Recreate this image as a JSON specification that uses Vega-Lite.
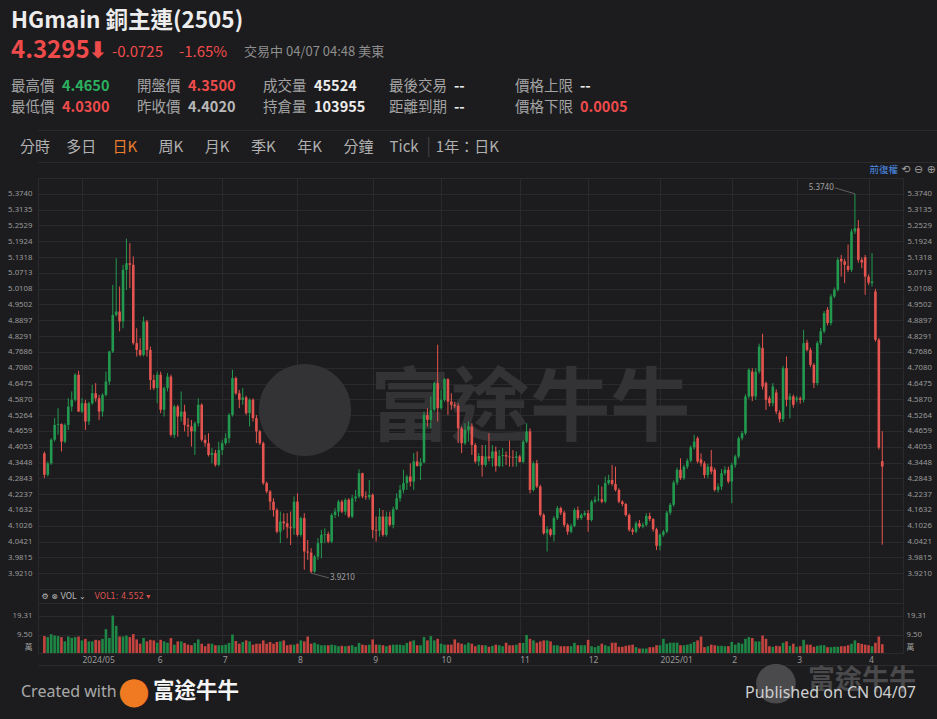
{
"$schema": "https://vega.github.io/schema/vega-lite/v6.json",
"background": "#1c1c1e",
"padding": 0,
"spacing": 0,
"bounds": "flush",
"config": {
 "view": {"stroke": null},
 "font": "Noto Sans CJK TC",
 "axis": {"labelColor": "#999999", "labelFont": "Noto Sans, Noto Sans CJK TC", "labelFontSize": 7.8, "gridColor": "#2a2a2c", "gridWidth": 1, "domain": false, "ticks": false}
},
"datasets": {
 "k": [
{"i":1,"o":4.380,"h":4.387,"l":4.285,"c":4.298,"v":8.7},
{"i":2,"o":4.298,"h":4.349,"l":4.291,"c":4.342,"v":8.2},
{"i":3,"o":4.342,"h":4.438,"l":4.336,"c":4.432,"v":9.7},
{"i":4,"o":4.432,"h":4.515,"l":4.425,"c":4.489,"v":9.0},
{"i":5,"o":4.489,"h":4.553,"l":4.451,"c":4.492,"v":8.7},
{"i":6,"o":4.492,"h":4.495,"l":4.387,"c":4.425,"v":8.2},
{"i":7,"o":4.425,"h":4.495,"l":4.419,"c":4.489,"v":6.0},
{"i":8,"o":4.489,"h":4.591,"l":4.470,"c":4.559,"v":8.5},
{"i":9,"o":4.559,"h":4.617,"l":4.540,"c":4.585,"v":7.8},
{"i":10,"o":4.585,"h":4.687,"l":4.578,"c":4.681,"v":8.2},
{"i":11,"o":4.681,"h":4.696,"l":4.538,"c":4.540,"v":8.5},
{"i":12,"o":4.540,"h":4.591,"l":4.534,"c":4.572,"v":6.5},
{"i":13,"o":4.572,"h":4.585,"l":4.470,"c":4.502,"v":7.3},
{"i":14,"o":4.502,"h":4.578,"l":4.489,"c":4.572,"v":6.0},
{"i":15,"o":4.572,"h":4.642,"l":4.566,"c":4.610,"v":6.0},
{"i":16,"o":4.610,"h":4.649,"l":4.578,"c":4.591,"v":6.8},
{"i":17,"o":4.591,"h":4.604,"l":4.508,"c":4.540,"v":6.5},
{"i":18,"o":4.540,"h":4.610,"l":4.521,"c":4.604,"v":7.3},
{"i":19,"o":4.604,"h":4.693,"l":4.598,"c":4.655,"v":12.3},
{"i":20,"o":4.655,"h":4.773,"l":4.642,"c":4.770,"v":7.8},
{"i":21,"o":4.770,"h":5.025,"l":4.764,"c":4.910,"v":19.31},
{"i":22,"o":4.910,"h":5.128,"l":4.904,"c":4.923,"v":14.0},
{"i":23,"o":4.923,"h":5.019,"l":4.847,"c":4.885,"v":8.5},
{"i":24,"o":4.885,"h":5.102,"l":4.859,"c":5.083,"v":8.5},
{"i":25,"o":5.083,"h":5.202,"l":5.006,"c":5.108,"v":9.0},
{"i":26,"o":5.108,"h":5.185,"l":5.013,"c":5.102,"v":8.2},
{"i":27,"o":5.102,"h":5.134,"l":4.796,"c":4.802,"v":9.8},
{"i":28,"o":4.802,"h":4.859,"l":4.751,"c":4.776,"v":7.0},
{"i":29,"o":4.776,"h":4.821,"l":4.751,"c":4.757,"v":4.8},
{"i":30,"o":4.757,"h":4.904,"l":4.751,"c":4.885,"v":7.8},
{"i":31,"o":4.885,"h":4.891,"l":4.751,"c":4.776,"v":6.0},
{"i":32,"o":4.776,"h":4.789,"l":4.623,"c":4.661,"v":6.8},
{"i":33,"o":4.661,"h":4.681,"l":4.623,"c":4.630,"v":6.5},
{"i":34,"o":4.630,"h":4.693,"l":4.572,"c":4.681,"v":5.3},
{"i":35,"o":4.681,"h":4.693,"l":4.534,"c":4.547,"v":6.8},
{"i":36,"o":4.547,"h":4.636,"l":4.521,"c":4.630,"v":6.0},
{"i":37,"o":4.630,"h":4.687,"l":4.617,"c":4.674,"v":5.3},
{"i":38,"o":4.674,"h":4.681,"l":4.444,"c":4.451,"v":7.7},
{"i":39,"o":4.451,"h":4.566,"l":4.438,"c":4.559,"v":4.3},
{"i":40,"o":4.559,"h":4.566,"l":4.444,"c":4.521,"v":6.0},
{"i":41,"o":4.521,"h":4.617,"l":4.502,"c":4.540,"v":6.0},
{"i":42,"o":4.540,"h":4.566,"l":4.464,"c":4.489,"v":5.2},
{"i":43,"o":4.489,"h":4.515,"l":4.444,"c":4.483,"v":4.3},
{"i":44,"o":4.483,"h":4.508,"l":4.406,"c":4.464,"v":4.0},
{"i":45,"o":4.464,"h":4.502,"l":4.374,"c":4.495,"v":5.2},
{"i":46,"o":4.495,"h":4.591,"l":4.483,"c":4.566,"v":7.0},
{"i":47,"o":4.566,"h":4.572,"l":4.425,"c":4.432,"v":4.8},
{"i":48,"o":4.432,"h":4.451,"l":4.406,"c":4.419,"v":3.5},
{"i":49,"o":4.419,"h":4.457,"l":4.368,"c":4.374,"v":4.8},
{"i":50,"o":4.374,"h":4.400,"l":4.342,"c":4.381,"v":4.8},
{"i":51,"o":4.381,"h":4.393,"l":4.329,"c":4.336,"v":4.0},
{"i":52,"o":4.336,"h":4.425,"l":4.330,"c":4.393,"v":4.0},
{"i":53,"o":4.393,"h":4.432,"l":4.374,"c":4.419,"v":4.0},
{"i":54,"o":4.419,"h":4.457,"l":4.412,"c":4.438,"v":4.3},
{"i":55,"o":4.438,"h":4.534,"l":4.419,"c":4.527,"v":5.2},
{"i":56,"o":4.527,"h":4.700,"l":4.521,"c":4.668,"v":9.5},
{"i":57,"o":4.668,"h":4.674,"l":4.604,"c":4.610,"v":6.2},
{"i":58,"o":4.610,"h":4.623,"l":4.553,"c":4.585,"v":4.8},
{"i":59,"o":4.585,"h":4.630,"l":4.566,"c":4.594,"v":5.7},
{"i":60,"o":4.594,"h":4.601,"l":4.527,"c":4.534,"v":6.5},
{"i":61,"o":4.534,"h":4.591,"l":4.483,"c":4.585,"v":6.0},
{"i":62,"o":4.585,"h":4.591,"l":4.502,"c":4.515,"v":4.3},
{"i":63,"o":4.515,"h":4.527,"l":4.419,"c":4.464,"v":4.8},
{"i":64,"o":4.464,"h":4.470,"l":4.412,"c":4.419,"v":4.8},
{"i":65,"o":4.419,"h":4.425,"l":4.259,"c":4.266,"v":6.5},
{"i":66,"o":4.266,"h":4.272,"l":4.227,"c":4.234,"v":4.8},
{"i":67,"o":4.234,"h":4.240,"l":4.163,"c":4.195,"v":5.7},
{"i":68,"o":4.195,"h":4.208,"l":4.138,"c":4.163,"v":4.8},
{"i":69,"o":4.163,"h":4.170,"l":4.074,"c":4.080,"v":5.7},
{"i":70,"o":4.080,"h":4.157,"l":4.036,"c":4.119,"v":6.0},
{"i":71,"o":4.119,"h":4.151,"l":4.087,"c":4.112,"v":6.5},
{"i":72,"o":4.112,"h":4.151,"l":4.055,"c":4.097,"v":4.0},
{"i":73,"o":4.097,"h":4.157,"l":4.029,"c":4.093,"v":4.3},
{"i":74,"o":4.093,"h":4.215,"l":4.068,"c":4.195,"v":4.3},
{"i":75,"o":4.195,"h":4.227,"l":4.061,"c":4.068,"v":4.8},
{"i":76,"o":4.068,"h":4.138,"l":4.061,"c":4.132,"v":6.5},
{"i":77,"o":4.132,"h":4.151,"l":3.934,"c":4.004,"v":6.0},
{"i":78,"o":4.004,"h":4.048,"l":3.972,"c":4.000,"v":8.5},
{"i":79,"o":4.000,"h":4.017,"l":3.921,"c":3.927,"v":4.8},
{"i":80,"o":3.927,"h":3.991,"l":3.923,"c":3.985,"v":5.3},
{"i":81,"o":3.985,"h":4.055,"l":3.972,"c":4.036,"v":4.5},
{"i":82,"o":4.036,"h":4.087,"l":3.978,"c":4.068,"v":4.0},
{"i":83,"o":4.068,"h":4.093,"l":4.036,"c":4.071,"v":4.0},
{"i":84,"o":4.071,"h":4.080,"l":4.036,"c":4.042,"v":4.0},
{"i":85,"o":4.042,"h":4.151,"l":4.036,"c":4.144,"v":4.3},
{"i":86,"o":4.144,"h":4.170,"l":4.132,"c":4.157,"v":4.0},
{"i":87,"o":4.157,"h":4.202,"l":4.138,"c":4.195,"v":3.5},
{"i":88,"o":4.195,"h":4.202,"l":4.151,"c":4.157,"v":3.7},
{"i":89,"o":4.157,"h":4.208,"l":4.144,"c":4.202,"v":3.5},
{"i":90,"o":4.202,"h":4.208,"l":4.132,"c":4.138,"v":3.7},
{"i":91,"o":4.138,"h":4.221,"l":4.132,"c":4.208,"v":4.0},
{"i":92,"o":4.208,"h":4.240,"l":4.195,"c":4.215,"v":3.2},
{"i":93,"o":4.215,"h":4.319,"l":4.208,"c":4.304,"v":5.2},
{"i":94,"o":4.304,"h":4.306,"l":4.208,"c":4.215,"v":4.3},
{"i":95,"o":4.215,"h":4.234,"l":4.202,"c":4.212,"v":4.0},
{"i":96,"o":4.212,"h":4.278,"l":4.202,"c":4.221,"v":4.3},
{"i":97,"o":4.221,"h":4.227,"l":4.055,"c":4.087,"v":7.0},
{"i":98,"o":4.087,"h":4.138,"l":4.042,"c":4.084,"v":4.3},
{"i":99,"o":4.084,"h":4.170,"l":4.061,"c":4.138,"v":4.3},
{"i":100,"o":4.138,"h":4.163,"l":4.061,"c":4.068,"v":4.0},
{"i":101,"o":4.068,"h":4.157,"l":4.061,"c":4.138,"v":3.5},
{"i":102,"o":4.138,"h":4.157,"l":4.100,"c":4.106,"v":4.0},
{"i":103,"o":4.106,"h":4.176,"l":4.093,"c":4.166,"v":4.3},
{"i":104,"o":4.166,"h":4.227,"l":4.163,"c":4.208,"v":4.3},
{"i":105,"o":4.208,"h":4.259,"l":4.195,"c":4.240,"v":4.3},
{"i":106,"o":4.240,"h":4.317,"l":4.227,"c":4.266,"v":4.0},
{"i":107,"o":4.266,"h":4.298,"l":4.240,"c":4.291,"v":5.2},
{"i":108,"o":4.291,"h":4.342,"l":4.253,"c":4.272,"v":6.0},
{"i":109,"o":4.272,"h":4.381,"l":4.240,"c":4.349,"v":6.5},
{"i":110,"o":4.349,"h":4.387,"l":4.329,"c":4.332,"v":4.0},
{"i":111,"o":4.332,"h":4.361,"l":4.278,"c":4.345,"v":4.0},
{"i":112,"o":4.345,"h":4.540,"l":4.342,"c":4.527,"v":8.2},
{"i":113,"o":4.527,"h":4.553,"l":4.483,"c":4.508,"v":6.5},
{"i":114,"o":4.508,"h":4.598,"l":4.476,"c":4.547,"v":8.7},
{"i":115,"o":4.547,"h":4.655,"l":4.540,"c":4.649,"v":6.5},
{"i":116,"o":4.649,"h":4.796,"l":4.502,"c":4.553,"v":7.3},
{"i":117,"o":4.553,"h":4.623,"l":4.547,"c":4.585,"v":4.8},
{"i":118,"o":4.585,"h":4.668,"l":4.578,"c":4.664,"v":4.3},
{"i":119,"o":4.664,"h":4.668,"l":4.527,"c":4.578,"v":4.3},
{"i":120,"o":4.578,"h":4.610,"l":4.547,"c":4.566,"v":4.3},
{"i":121,"o":4.566,"h":4.578,"l":4.553,"c":4.562,"v":7.0},
{"i":122,"o":4.562,"h":4.572,"l":4.419,"c":4.476,"v":5.3},
{"i":123,"o":4.476,"h":4.483,"l":4.381,"c":4.419,"v":4.8},
{"i":124,"o":4.419,"h":4.495,"l":4.412,"c":4.470,"v":4.3},
{"i":125,"o":4.470,"h":4.502,"l":4.425,"c":4.483,"v":5.3},
{"i":126,"o":4.483,"h":4.495,"l":4.374,"c":4.412,"v":4.8},
{"i":127,"o":4.412,"h":4.419,"l":4.342,"c":4.349,"v":3.5},
{"i":128,"o":4.349,"h":4.381,"l":4.332,"c":4.370,"v":4.3},
{"i":129,"o":4.370,"h":4.412,"l":4.291,"c":4.336,"v":4.0},
{"i":130,"o":4.336,"h":4.412,"l":4.329,"c":4.368,"v":4.0},
{"i":131,"o":4.368,"h":4.457,"l":4.349,"c":4.361,"v":3.2},
{"i":132,"o":4.361,"h":4.412,"l":4.329,"c":4.387,"v":3.7},
{"i":133,"o":4.387,"h":4.406,"l":4.310,"c":4.332,"v":4.3},
{"i":134,"o":4.332,"h":4.393,"l":4.327,"c":4.370,"v":4.0},
{"i":135,"o":4.370,"h":4.400,"l":4.329,"c":4.373,"v":3.5},
{"i":136,"o":4.373,"h":4.387,"l":4.336,"c":4.368,"v":5.3},
{"i":137,"o":4.368,"h":4.429,"l":4.329,"c":4.365,"v":4.0},
{"i":138,"o":4.365,"h":4.393,"l":4.329,"c":4.363,"v":4.0},
{"i":139,"o":4.363,"h":4.387,"l":4.329,"c":4.368,"v":4.3},
{"i":140,"o":4.368,"h":4.374,"l":4.345,"c":4.347,"v":5.2},
{"i":141,"o":4.347,"h":4.432,"l":4.342,"c":4.425,"v":5.2},
{"i":142,"o":4.425,"h":4.495,"l":4.419,"c":4.464,"v":9.3},
{"i":143,"o":4.464,"h":4.476,"l":4.227,"c":4.240,"v":7.3},
{"i":144,"o":4.240,"h":4.349,"l":4.234,"c":4.342,"v":6.5},
{"i":145,"o":4.342,"h":4.355,"l":4.247,"c":4.253,"v":5.3},
{"i":146,"o":4.253,"h":4.260,"l":4.138,"c":4.144,"v":6.0},
{"i":147,"o":4.144,"h":4.151,"l":4.068,"c":4.074,"v":6.5},
{"i":148,"o":4.074,"h":4.100,"l":4.004,"c":4.089,"v":6.5},
{"i":149,"o":4.089,"h":4.093,"l":4.061,"c":4.068,"v":6.0},
{"i":150,"o":4.068,"h":4.140,"l":4.042,"c":4.132,"v":4.0},
{"i":151,"o":4.132,"h":4.178,"l":4.125,"c":4.170,"v":4.0},
{"i":152,"o":4.170,"h":4.176,"l":4.144,"c":4.153,"v":3.5},
{"i":153,"o":4.153,"h":4.160,"l":4.097,"c":4.106,"v":3.5},
{"i":154,"o":4.106,"h":4.112,"l":4.068,"c":4.080,"v":3.5},
{"i":155,"o":4.080,"h":4.110,"l":4.074,"c":4.102,"v":3.5},
{"i":156,"o":4.102,"h":4.170,"l":4.097,"c":4.163,"v":5.2},
{"i":157,"o":4.163,"h":4.176,"l":4.125,"c":4.132,"v":4.0},
{"i":158,"o":4.132,"h":4.151,"l":4.125,"c":4.144,"v":4.0},
{"i":159,"o":4.144,"h":4.160,"l":4.138,"c":4.151,"v":4.0},
{"i":160,"o":4.151,"h":4.163,"l":4.080,"c":4.125,"v":6.8},
{"i":161,"o":4.125,"h":4.202,"l":4.119,"c":4.195,"v":3.5},
{"i":162,"o":4.195,"h":4.215,"l":4.189,"c":4.202,"v":3.0},
{"i":163,"o":4.202,"h":4.259,"l":4.195,"c":4.204,"v":3.7},
{"i":164,"o":4.204,"h":4.253,"l":4.189,"c":4.195,"v":4.8},
{"i":165,"o":4.195,"h":4.291,"l":4.189,"c":4.266,"v":4.0},
{"i":166,"o":4.266,"h":4.298,"l":4.259,"c":4.278,"v":3.5},
{"i":167,"o":4.278,"h":4.336,"l":4.256,"c":4.263,"v":5.3},
{"i":168,"o":4.263,"h":4.329,"l":4.234,"c":4.240,"v":5.3},
{"i":169,"o":4.240,"h":4.246,"l":4.189,"c":4.195,"v":3.2},
{"i":170,"o":4.195,"h":4.200,"l":4.178,"c":4.186,"v":3.2},
{"i":171,"o":4.186,"h":4.190,"l":4.138,"c":4.144,"v":3.7},
{"i":172,"o":4.144,"h":4.150,"l":4.080,"c":4.087,"v":4.0},
{"i":173,"o":4.087,"h":4.095,"l":4.068,"c":4.080,"v":4.3},
{"i":174,"o":4.080,"h":4.120,"l":4.074,"c":4.112,"v":3.0},
{"i":175,"o":4.112,"h":4.125,"l":4.093,"c":4.100,"v":2.3},
{"i":176,"o":4.100,"h":4.115,"l":4.093,"c":4.106,"v":2.3},
{"i":177,"o":4.106,"h":4.151,"l":4.100,"c":4.140,"v":2.3},
{"i":178,"o":4.140,"h":4.153,"l":4.120,"c":4.128,"v":3.0},
{"i":179,"o":4.128,"h":4.132,"l":4.080,"c":4.089,"v":3.0},
{"i":180,"o":4.089,"h":4.095,"l":4.010,"c":4.026,"v":4.0},
{"i":181,"o":4.026,"h":4.074,"l":4.008,"c":4.068,"v":4.0},
{"i":182,"o":4.068,"h":4.087,"l":4.061,"c":4.080,"v":7.3},
{"i":183,"o":4.080,"h":4.160,"l":4.074,"c":4.153,"v":4.8},
{"i":184,"o":4.153,"h":4.190,"l":4.144,"c":4.183,"v":5.3},
{"i":185,"o":4.183,"h":4.276,"l":4.176,"c":4.268,"v":5.3},
{"i":186,"o":4.268,"h":4.325,"l":4.259,"c":4.317,"v":5.3},
{"i":187,"o":4.317,"h":4.361,"l":4.278,"c":4.285,"v":4.0},
{"i":188,"o":4.285,"h":4.336,"l":4.278,"c":4.329,"v":4.0},
{"i":189,"o":4.329,"h":4.360,"l":4.320,"c":4.352,"v":4.3},
{"i":190,"o":4.352,"h":4.410,"l":4.345,"c":4.403,"v":4.8},
{"i":191,"o":4.403,"h":4.451,"l":4.395,"c":4.425,"v":5.7},
{"i":192,"o":4.438,"h":4.445,"l":4.342,"c":4.349,"v":6.5},
{"i":193,"o":4.357,"h":4.380,"l":4.330,"c":4.342,"v":8.5},
{"i":194,"o":4.342,"h":4.350,"l":4.285,"c":4.297,"v":3.0},
{"i":195,"o":4.297,"h":4.340,"l":4.285,"c":4.329,"v":3.5},
{"i":196,"o":4.329,"h":4.393,"l":4.300,"c":4.310,"v":4.3},
{"i":197,"o":4.317,"h":4.325,"l":4.234,"c":4.240,"v":4.0},
{"i":198,"o":4.240,"h":4.265,"l":4.230,"c":4.253,"v":3.7},
{"i":199,"o":4.253,"h":4.320,"l":4.240,"c":4.304,"v":3.7},
{"i":200,"o":4.304,"h":4.330,"l":4.295,"c":4.317,"v":3.5},
{"i":201,"o":4.317,"h":4.329,"l":4.265,"c":4.272,"v":3.5},
{"i":202,"o":4.272,"h":4.345,"l":4.189,"c":4.336,"v":5.7},
{"i":203,"o":4.336,"h":4.375,"l":4.325,"c":4.368,"v":4.3},
{"i":204,"o":4.368,"h":4.445,"l":4.360,"c":4.438,"v":5.3},
{"i":205,"o":4.438,"h":4.465,"l":4.430,"c":4.457,"v":4.8},
{"i":206,"o":4.457,"h":4.606,"l":4.450,"c":4.598,"v":7.3},
{"i":207,"o":4.598,"h":4.706,"l":4.590,"c":4.700,"v":8.2},
{"i":208,"o":4.693,"h":4.706,"l":4.580,"c":4.598,"v":7.7},
{"i":209,"o":4.598,"h":4.706,"l":4.585,"c":4.693,"v":6.0},
{"i":210,"o":4.693,"h":4.800,"l":4.685,"c":4.789,"v":6.0},
{"i":211,"o":4.783,"h":4.838,"l":4.625,"c":4.636,"v":9.0},
{"i":212,"o":4.649,"h":4.655,"l":4.546,"c":4.585,"v":7.3},
{"i":213,"o":4.591,"h":4.600,"l":4.560,"c":4.572,"v":3.5},
{"i":214,"o":4.572,"h":4.649,"l":4.560,"c":4.636,"v":3.2},
{"i":215,"o":4.613,"h":4.625,"l":4.530,"c":4.540,"v":3.7},
{"i":216,"o":4.536,"h":4.545,"l":4.498,"c":4.511,"v":3.5},
{"i":217,"o":4.511,"h":4.715,"l":4.500,"c":4.706,"v":5.3},
{"i":218,"o":4.706,"h":4.751,"l":4.560,"c":4.585,"v":6.0},
{"i":219,"o":4.585,"h":4.610,"l":4.514,"c":4.598,"v":3.7},
{"i":220,"o":4.598,"h":4.605,"l":4.555,"c":4.566,"v":4.8},
{"i":221,"o":4.585,"h":4.600,"l":4.575,"c":4.591,"v":3.2},
{"i":222,"o":4.591,"h":4.598,"l":4.570,"c":4.585,"v":3.5},
{"i":223,"o":4.585,"h":4.853,"l":4.575,"c":4.802,"v":6.8},
{"i":224,"o":4.804,"h":4.815,"l":4.770,"c":4.776,"v":4.3},
{"i":225,"o":4.776,"h":4.785,"l":4.710,"c":4.719,"v":4.3},
{"i":226,"o":4.719,"h":4.725,"l":4.630,"c":4.649,"v":3.2},
{"i":227,"o":4.649,"h":4.810,"l":4.640,"c":4.802,"v":3.7},
{"i":228,"o":4.802,"h":4.860,"l":4.795,"c":4.847,"v":4.0},
{"i":229,"o":4.847,"h":4.925,"l":4.840,"c":4.917,"v":4.0},
{"i":230,"o":4.930,"h":4.940,"l":4.870,"c":4.879,"v":3.0},
{"i":231,"o":4.879,"h":4.990,"l":4.870,"c":4.981,"v":3.0},
{"i":232,"o":4.981,"h":5.015,"l":4.975,"c":5.006,"v":3.2},
{"i":233,"o":5.006,"h":5.130,"l":5.000,"c":5.121,"v":3.2},
{"i":234,"o":5.125,"h":5.140,"l":5.057,"c":5.115,"v":3.5},
{"i":235,"o":5.115,"h":5.125,"l":5.032,"c":5.102,"v":3.5},
{"i":236,"o":5.098,"h":5.180,"l":5.075,"c":5.083,"v":4.0},
{"i":237,"o":5.083,"h":5.240,"l":5.075,"c":5.230,"v":4.8},
{"i":238,"o":5.230,"h":5.374,"l":5.220,"c":5.242,"v":6.5},
{"i":239,"o":5.242,"h":5.274,"l":5.110,"c":5.121,"v":5.2},
{"i":240,"o":5.121,"h":5.130,"l":5.089,"c":5.111,"v":4.7},
{"i":241,"o":5.131,"h":5.140,"l":4.987,"c":5.057,"v":4.3},
{"i":242,"o":5.057,"h":5.065,"l":5.025,"c":5.034,"v":4.0},
{"i":243,"o":5.032,"h":5.147,"l":5.019,"c":5.038,"v":3.5},
{"i":244,"o":5.000,"h":5.010,"l":4.808,"c":4.815,"v":5.3},
{"i":245,"o":4.815,"h":4.822,"l":4.395,"c":4.402,"v":8.5},
{"i":246,"o":4.350,"h":4.465,"l":4.030,"c":4.3295,"v":4.552}
 ],
 "ann": [
  {"i":238,"p":5.374,"i2":232.1,"p2":5.397,"t":"5.3740"},
  {"i":79,"p":3.921,"i2":84.2,"p2":3.903,"t":"3.9210"}
 ],
 "stats": [
  {"r":1,"c":0,"n":"最高價","val":"4.4650","d":"up"},
  {"r":1,"c":1,"n":"開盤價","val":"4.3500","d":"down"},
  {"r":1,"c":2,"n":"成交量","val":"45524","d":"flat"},
  {"r":1,"c":3,"n":"最後交易","val":"--","d":"flat"},
  {"r":1,"c":4,"n":"價格上限","val":"--","d":"flat"},
  {"r":2,"c":0,"n":"最低價","val":"4.0300","d":"down"},
  {"r":2,"c":1,"n":"昨收價","val":"4.4020","d":"neutral"},
  {"r":2,"c":2,"n":"持倉量","val":"103955","d":"flat"},
  {"r":2,"c":3,"n":"距離到期","val":"--","d":"flat"},
  {"r":2,"c":4,"n":"價格下限","val":"0.0005","d":"down"}
 ],
 "tabs": [
  {"k":0,"t":"分時","sel":false},
  {"k":1,"t":"多日","sel":false},
  {"k":2,"t":"日K","sel":true},
  {"k":3,"t":"周K","sel":false},
  {"k":4,"t":"月K","sel":false},
  {"k":5,"t":"季K","sel":false},
  {"k":6,"t":"年K","sel":false},
  {"k":7,"t":"分鐘","sel":false},
  {"k":8,"t":"Tick","sel":false},
  {"k":9,"t":"1年：日K","sel":false}
 ],
 "price": [
  {"k":"L","item":"last","t":"4.3295"},
  {"k":"L","item":"arrow","t":"⬇"},
  {"k":"L","item":"chg","t":"-0.0725"},
  {"k":"L","item":"pct","t":"-1.65%"},
  {"k":"L","item":"status","t":"交易中 04/07 04:48 美東"}
 ],
 "foot": [
  {"k":"L","item":"created","t":"Created with"},
  {"k":"L","item":"logo","t":"●"},
  {"k":"L","item":"brand","t":"富途牛牛"},
  {"k":"R","item":"wmlogo","t":"●"},
  {"k":"R","item":"wm","t":"富途牛牛"},
  {"k":"R","item":"pub","t":"Published on CN 04/07"}
 ]
},
"vconcat": [
 {
  "width": 900, "height": 39,
  "data": {"values": [{"k":"L","t":"HGmain 銅主連(2505)"}]},
  "mark": {"type":"text","align":"left","baseline":"middle","dx":-27,"dy":1,"fontSize":22.5,"fontWeight":"bold","color":"#ededed"},
  "encoding": {
   "x": {"field":"k","type":"nominal","scale":{"type":"point","domain":["L","R"],"padding":0},"axis":null},
   "text": {"field":"t","type":"nominal"}
  }
 },
 {
  "width": 900, "height": 24,
  "data": {"name":"price"},
  "encoding": {"x": {"field":"k","type":"nominal","scale":{"type":"point","domain":["L","R"],"padding":0},"axis":null}, "text": {"field":"t","type":"nominal"}},
  "layer": [
   {"transform":[{"filter":"datum.item == 'last'"}],"mark":{"type":"text","align":"left","baseline":"middle","dx":-27,"fontSize":24,"fontWeight":"bold","color":"#ef4b4b"}},
   {"transform":[{"filter":"datum.item == 'arrow'"}],"mark":{"type":"text","align":"left","baseline":"middle","dx":50,"fontSize":23,"font":"DejaVu Sans","fontWeight":"bold","color":"#ef4b4b"}},
   {"transform":[{"filter":"datum.item == 'chg'"}],"mark":{"type":"text","align":"left","baseline":"middle","dx":74,"dy":1,"fontSize":15,"color":"#ef4b4b"}},
   {"transform":[{"filter":"datum.item == 'pct'"}],"mark":{"type":"text","align":"left","baseline":"middle","dx":141,"dy":1,"fontSize":15,"color":"#ef4b4b"}},
   {"transform":[{"filter":"datum.item == 'status'"}],"mark":{"type":"text","align":"left","baseline":"middle","dx":206,"dy":1,"fontSize":13,"color":"#8f8f8f"}}
  ]
 },
 {
  "width": 900, "height": 67,
  "data": {"name":"stats"},
  "encoding": {
   "x": {"field":"c","type":"quantitative","scale":{"domain":[0.2143,7.357],"nice":false,"zero":false},"axis":null},
   "y": {"field":"r","type":"ordinal","scale":{"type":"band","domain":[1,2],"paddingInner":0,"paddingOuter":0.6},"axis":null}
  },
  "layer": [
   {"mark":{"type":"text","align":"left","baseline":"middle","dy":1,"fontSize":14.5,"color":"#a3a3a3"},"encoding":{"text":{"field":"n","type":"nominal"}}},
   {"transform":[{"filter":"datum.c < 3"}],"mark":{"type":"text","align":"left","baseline":"middle","dx":51,"dy":1,"fontSize":14.5,"fontWeight":"bold"},"encoding":{"text":{"field":"val","type":"nominal"},"color":{"field":"d","type":"nominal","scale":{"domain":["up","down","flat","neutral"],"range":["#2bb05f","#ef4b4b","#ececec","#b8b8b8"]},"legend":null}}},
   {"transform":[{"filter":"datum.c >= 3"}],"mark":{"type":"text","align":"left","baseline":"middle","dx":65,"dy":1,"fontSize":14.5,"fontWeight":"bold"},"encoding":{"text":{"field":"val","type":"nominal"},"color":{"field":"d","type":"nominal","scale":{"domain":["up","down","flat","neutral"],"range":["#2bb05f","#ef4b4b","#ececec","#b8b8b8"]},"legend":null}}}
  ]
 },
 {
  "width": 900, "height": 32,
  "data": {"name":"tabs"},
  "encoding": {
   "x": {"field":"k","type":"quantitative","scale":{"domain":[0.3896,19.87],"nice":false,"zero":false},"axis":{"orient":"top","domain":true,"domainColor":"#2b2b2d","labels":false,"ticks":false,"grid":false,"title":null}}
  },
  "layer": [
   {"mark":{"type":"text","align":"left","baseline":"middle","fontSize":15,"dy":1},
    "encoding":{"text":{"field":"t","type":"nominal"},"color":{"condition":{"test":"datum.sel","value":"#ee7d30"},"value":"#b0b0b0"}}},
   {"transform":[{"filter":"datum.k == 9"}],"mark":{"type":"text","text":"|","align":"center","baseline":"middle","dx":-7,"dy":1,"fontSize":18,"color":"#3c3c3e"}}
  ]
 },
 {
  "width": 900, "height": 16,
  "data": {"values": [{"k":"R","item":"adj","t":"前復權"},{"k":"R","item":"icons","t":"⟲ ⊖ ⊕"}]},
  "encoding": {"x": {"field":"k","type":"nominal","scale":{"type":"point","domain":["L","R"],"padding":0},"axis":{"orient":"top","domain":true,"domainColor":"#2b2b2d","labels":false,"ticks":false,"grid":false,"title":null}}, "text": {"field":"t","type":"nominal"}},
  "layer": [
   {"transform":[{"filter":"datum.item == 'adj'"}],"mark":{"type":"text","align":"right","baseline":"middle","dx":-40,"fontSize":9.5,"color":"#4d8ee8"}},
   {"transform":[{"filter":"datum.item == 'icons'"}],"mark":{"type":"text","align":"right","baseline":"middle","dx":-2,"fontSize":11,"font":"DejaVu Sans","color":"#9a9a9a"}}
  ]
 },
 {
  "width": 865, "height": 411,
  "view": {"stroke": "#2a2a2c"},
  "layer": [
   {"data":{"values":[{"w":"logo"}]},"mark":{"type":"point","filled":true,"shape":"circle","size":8500,"color":"#333335","opacity":1},
    "encoding":{"x":{"datum":77.2,"type":"quantitative","scale":{"domain":[0.6,250.6],"nice":false,"zero":false},"axis":{"values":[12,34,53,75,97,117,140,160,181,202,221,242],"labels":false,"ticks":false,"domain":false,"grid":true,"title":null}},
                "y":{"datum":4.546,"type":"quantitative","scale":{"domain":[3.8605,5.4345],"nice":false,"zero":false},"axis":null}}},
   {"data":{"values":[{"w":"富途牛牛"}]},"mark":{"type":"text","fontSize":80,"fontWeight":"bold","color":"#333335","align":"center","baseline":"middle"},
    "encoding":{"x":{"datum":143.1,"type":"quantitative","scale":{"domain":[0.6,250.6],"nice":false,"zero":false},"axis":{"values":[12,34,53,75,97,117,140,160,181,202,221,242],"labels":false,"ticks":false,"domain":false,"grid":true,"title":null}},
                "y":{"datum":4.546,"type":"quantitative","scale":{"domain":[3.8605,5.4345],"nice":false,"zero":false},"axis":null},
                "text":{"field":"w","type":"nominal"}}},
   {"data":{"name":"k"},"mark":{"type":"rule","strokeWidth":1},
    "encoding":{
     "x":{"field":"i","type":"quantitative","scale":{"domain":[0.6,250.6],"nice":false,"zero":false},"axis":{"values":[12,34,53,75,97,117,140,160,181,202,221,242],"labels":false,"ticks":false,"domain":false,"grid":true,"title":null}},
     "y":{"field":"l","type":"quantitative","scale":{"domain":[3.8605,5.4345],"nice":false,"zero":false},
          "axis":{"orient":"left","values":[3.921,3.9815,4.0421,4.1026,4.1632,4.2237,4.2843,4.3448,4.4053,4.4659,4.5264,4.587,4.6475,4.708,4.7686,4.8291,4.8897,4.9502,5.0108,5.0713,5.1318,5.1924,5.2529,5.3135,5.374],
                  "format":".4f","grid":true,"labelPadding":6,"minExtent":37,"maxExtent":37,"title":null}},
     "y2":{"field":"h"},
     "color":{"condition":{"test":"datum.c < datum.o","value":"#e5544e"},"value":"#22994f"}}},
   {"data":{"name":"k"},"mark":{"type":"bar","size":2.6},
    "encoding":{
     "x":{"field":"i","type":"quantitative","scale":{"domain":[0.6,250.6],"nice":false,"zero":false},"axis":{"values":[12,34,53,75,97,117,140,160,181,202,221,242],"labels":false,"ticks":false,"domain":false,"grid":true,"title":null}},
     "y":{"field":"o","type":"quantitative","scale":{"domain":[3.8605,5.4345],"nice":false,"zero":false},
          "axis":{"orient":"right","values":[3.921,3.9815,4.0421,4.1026,4.1632,4.2237,4.2843,4.3448,4.4053,4.4659,4.5264,4.587,4.6475,4.708,4.7686,4.8291,4.8897,4.9502,5.0108,5.0713,5.1318,5.1924,5.2529,5.3135,5.374],
                  "format":".4f","grid":false,"labelPadding":4,"minExtent":35,"maxExtent":35,"title":null}},
     "y2":{"field":"c"},
     "color":{"condition":{"test":"datum.c < datum.o","value":"#e5544e"},"value":"#22994f"}}},
   {"data":{"name":"ann"},"mark":{"type":"rule","strokeWidth":0.8,"color":"#6e6e6e"},
    "encoding":{
     "x":{"field":"i","type":"quantitative","scale":{"domain":[0.6,250.6],"nice":false,"zero":false},"axis":{"values":[12,34,53,75,97,117,140,160,181,202,221,242],"labels":false,"ticks":false,"domain":false,"grid":true,"title":null}},
     "x2":{"field":"i2"},
     "y":{"field":"p","type":"quantitative","scale":{"domain":[3.8605,5.4345],"nice":false,"zero":false},"axis":null},
     "y2":{"field":"p2"}}},
   {"data":{"name":"ann"},"transform":[{"filter":"datum.t == '5.3740'"}],"mark":{"type":"text","align":"right","baseline":"middle","fontSize":8,"font":"Noto Sans","color":"#a0a0a0","dx":-1},
    "encoding":{
     "x":{"field":"i2","type":"quantitative","scale":{"domain":[0.6,250.6],"nice":false,"zero":false},"axis":{"values":[12,34,53,75,97,117,140,160,181,202,221,242],"labels":false,"ticks":false,"domain":false,"grid":true,"title":null}},
     "y":{"field":"p2","type":"quantitative","scale":{"domain":[3.8605,5.4345],"nice":false,"zero":false},"axis":null},
     "text":{"field":"t","type":"nominal"}}},
   {"data":{"name":"ann"},"transform":[{"filter":"datum.t == '3.9210'"}],"mark":{"type":"text","align":"left","baseline":"middle","fontSize":8,"font":"Noto Sans","color":"#a0a0a0","dx":1},
    "encoding":{
     "x":{"field":"i2","type":"quantitative","scale":{"domain":[0.6,250.6],"nice":false,"zero":false},"axis":{"values":[12,34,53,75,97,117,140,160,181,202,221,242],"labels":false,"ticks":false,"domain":false,"grid":true,"title":null}},
     "y":{"field":"p2","type":"quantitative","scale":{"domain":[3.8605,5.4345],"nice":false,"zero":false},"axis":null},
     "text":{"field":"t","type":"nominal"}}}
  ],
  "resolve": {"axis": {"y": "independent"}}
 },
 {
  "width": 865, "height": 64,
  "view": {"stroke": "#2a2a2c"},
  "data": {"name":"k"},
  "layer": [
   {"mark":{"type":"bar","size":2.6},
    "encoding":{
     "x":{"field":"i","type":"quantitative","scale":{"domain":[0.6,250.6],"nice":false,"zero":false},
          "axis":{"values":[12,34,53,75,97,117,140,160,181,202,221,242],
                  "labelExpr":"['2024/05','6','7','8','9','10','11','12','2025/01','2','3','4'][indexof([12,34,53,75,97,117,140,160,181,202,221,242], datum.value)]",
                  "labelAlign":"left","labelPadding":2,"labelFontSize":8.5,"labelFlush":false,"labelOverlap":false,"grid":true,"ticks":false,"domain":false,"minExtent":12,"maxExtent":12,"title":null}},
     "y":{"field":"v","type":"quantitative","scale":{"domain":[0,33],"nice":false},
          "axis":{"orient":"left","values":[2.6,9.5,19.31,25.8],
                  "labelExpr":"datum.value < 3 ? '萬' : datum.value > 25 ? '' : format(datum.value, '.2f')",
                  "gridOpacity":{"condition":{"test":"datum.value == 2.6","value":0},"value":1},
                  "labelPadding":6,"grid":true,"minExtent":37,"maxExtent":37,
                  "title":"⚙  ⊗  VOL  ⌄","titleAngle":0,"titleX":3,"titleY":7,"titleAlign":"left","titleBaseline":"middle","titleColor":"#b8b8b8","titleFont":"DejaVu Sans","titleFontSize":8,"titleFontWeight":"normal"}},
     "color":{"condition":{"test":"datum.c < datum.o","value":"#c4443f"},"value":"#1e8746"}}},
   {"mark":{"type":"bar","size":2.6,"opacity":0},
    "encoding":{
     "x":{"field":"i","type":"quantitative","scale":{"domain":[0.6,250.6],"nice":false,"zero":false},
          "axis":{"values":[12,34,53,75,97,117,140,160,181,202,221,242],
                  "labelExpr":"['2024/05','6','7','8','9','10','11','12','2025/01','2','3','4'][indexof([12,34,53,75,97,117,140,160,181,202,221,242], datum.value)]",
                  "labelAlign":"left","labelPadding":2,"labelFontSize":8.5,"labelFlush":false,"labelOverlap":false,"grid":true,"ticks":false,"domain":false,"minExtent":12,"maxExtent":12,"title":null}},
     "y":{"field":"v","type":"quantitative","scale":{"domain":[0,33],"nice":false},
          "axis":{"orient":"right","values":[2.6,9.5,19.31],
                  "labelExpr":"datum.value < 3 ? '萬' : format(datum.value, '.2f')",
                  "labelPadding":3,"grid":false,"minExtent":35,"maxExtent":35,
                  "title":"VOL1: 4.552 ▾","titleAngle":0,"titleX":-809,"titleY":7,"titleAlign":"left","titleBaseline":"middle","titleColor":"#d9534f","titleFont":"DejaVu Sans","titleFontSize":8,"titleFontWeight":"normal"}}}}
  ],
  "resolve": {"axis": {"y": "independent"}}
 },
 {
  "width": 900, "height": 12,
  "data": {"values": [{"t": ""}]},
  "mark": {"type": "text"},
  "encoding": {"text": {"field": "t", "type": "nominal"}}
 },
 {
  "width": 900, "height": 54,
  "data": {"name":"foot"},
  "encoding": {
   "x": {"field":"k","type":"nominal","scale":{"type":"point","domain":["L","R"],"padding":0},
         "axis":{"orient":"top","domain":true,"domainColor":"#2c2c2e","labels":false,"ticks":false,"grid":false,"title":null}},
   "text": {"field":"t","type":"nominal"}
  },
  "layer": [
   {"transform":[{"filter":"datum.item == 'created'"}],"mark":{"type":"text","align":"left","baseline":"middle","dx":-17,"fontSize":16,"font":"Noto Sans","color":"#a9a9a9"}},
   {"transform":[{"filter":"datum.item == 'logo'"}],"mark":{"type":"text","align":"center","baseline":"middle","dx":96,"fontSize":37,"font":"DejaVu Sans","color":"#f07a22"}},
   {"transform":[{"filter":"datum.item == 'brand'"}],"mark":{"type":"text","align":"left","baseline":"middle","dx":115,"fontSize":21.5,"fontWeight":"bold","color":"#f5f5f5"}},
   {"transform":[{"filter":"datum.item == 'wmlogo'"}],"mark":{"type":"text","align":"center","baseline":"middle","dx":-162,"dy":-11,"fontSize":52,"font":"DejaVu Sans","color":"#4a4a4c"}},
   {"transform":[{"filter":"datum.item == 'wm'"}],"mark":{"type":"text","align":"right","baseline":"middle","dx":-22,"dy":-11,"fontSize":27,"fontWeight":"bold","color":"#4a4a4c"}},
   {"transform":[{"filter":"datum.item == 'pub'"}],"mark":{"type":"text","align":"right","baseline":"middle","dx":-22,"dy":1,"fontSize":16,"font":"Noto Sans","color":"#cfcfcf"}}
  ]
 }
]
}
